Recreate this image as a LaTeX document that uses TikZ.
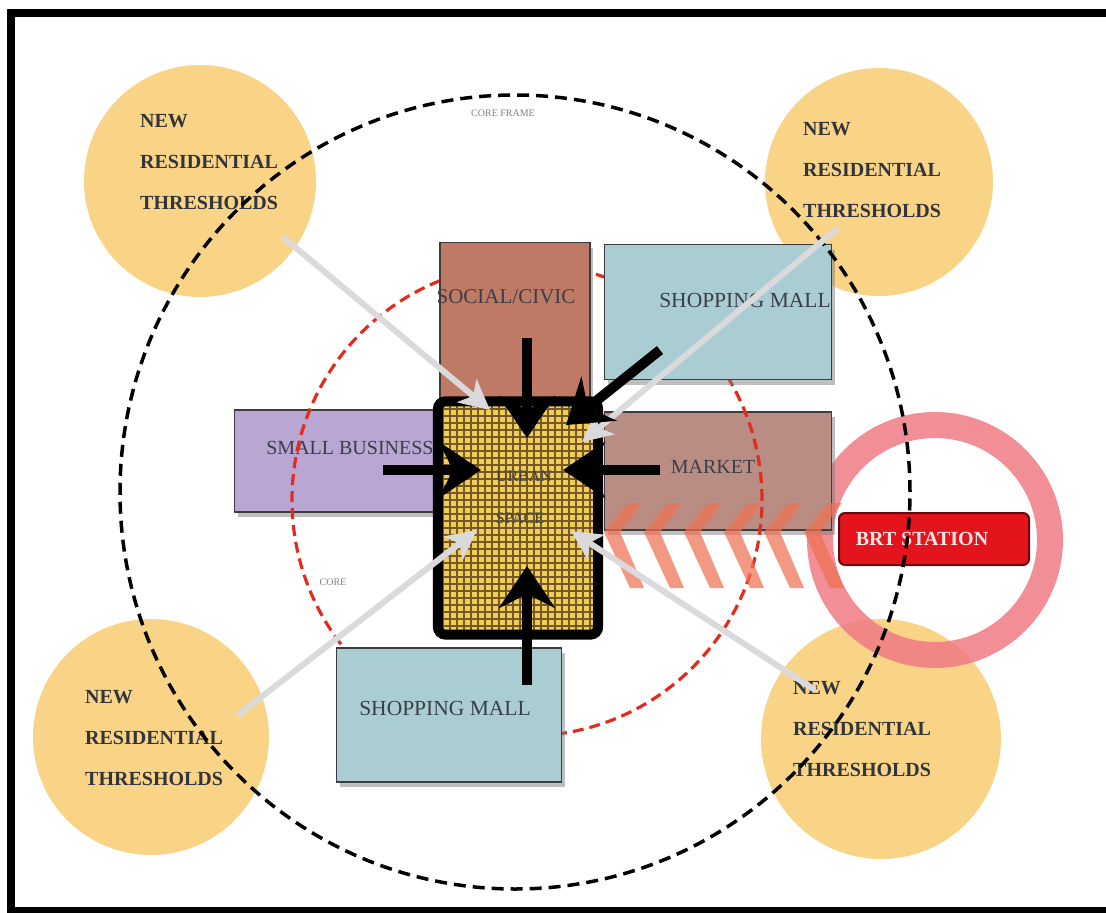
\documentclass[tikz,border=0pt]{standalone}
\usepackage{fontspec}
\setmainfont{Liberation Serif}
\usetikzlibrary{arrows.meta,shadows}

\definecolor{threshold}{RGB}{250,212,134}
\definecolor{civic}{RGB}{191,122,102}
\definecolor{mall}{RGB}{169,205,211}
\definecolor{business}{RGB}{186,166,210}
\definecolor{market}{RGB}{186,141,132}
\definecolor{urbanfill}{RGB}{240,206,84}
\definecolor{urbangrid}{RGB}{118,88,40}
\definecolor{ringpink}{RGB}{240,122,132}
\definecolor{brtred}{RGB}{228,20,28}
\definecolor{corered}{RGB}{226,44,30}
\definecolor{chevron}{RGB}{238,112,82}
\definecolor{feedgray}{RGB}{218,218,220}
\definecolor{labelgray}{RGB}{58,62,70}
\definecolor{boxline}{RGB}{60,60,62}

\begin{document}
\begin{tikzpicture}[x=1pt,y=-1pt,
    resicircle/.style={circle, fill=threshold, inner sep=0pt},
    resitext/.style={align=left, anchor=west, inner sep=0pt, text=labelgray!85!black,
        font=\fontsize{20}{41}\selectfont\bfseries},
    usebox/.style={draw=boxline, line width=1.8pt, inner sep=0pt,
        drop shadow={opacity=0.5, shadow xshift=3pt, shadow yshift=-5pt}},
    boxtext/.style={inner sep=0pt, text=labelgray, font=\fontsize{20}{24}\selectfont},
    smalllabel/.style={inner sep=0pt, text=gray, font=\fontsize{10}{12}\selectfont},
    inarrow/.style={line width=10pt, -{Stealth[length=42pt,width=56pt,inset=14pt]}},
    feedarrow/.style={draw=feedgray, line width=6pt, -{Stealth[length=30pt,width=30pt,inset=8pt]}}]

    \useasboundingbox (0,0) rectangle (1106,913);

    % Define the four residential thresholds
    \node[resicircle, minimum size=232pt] (nw) at (200,181) {};
    \node[resicircle, minimum size=228pt] (ne) at (879,182) {};
    \node[resicircle, minimum size=236pt] (sw) at (151,737) {};
    \node[resicircle, minimum size=240pt] (se) at (881,739) {};
    \node[resitext] (nwtext) at (140,162) {NEW\\RESIDENTIAL\\THRESHOLDS};
    \node[resitext] (netext) at (803,170) {NEW\\RESIDENTIAL\\THRESHOLDS};
    \node[resitext] (swtext) at (85,738) {NEW\\RESIDENTIAL\\THRESHOLDS};
    \node[resitext] (setext) at (793,729) {NEW\\RESIDENTIAL\\THRESHOLDS};

    % Draw the ring round the BRT station
    \node[circle, draw=ringpink, draw opacity=0.85, line width=26pt,
        minimum size=230pt, inner sep=0pt] (ring) at (935,540) {};

    % Draw the land uses behind the core
    \node[usebox, fill=business, minimum width=205pt, minimum height=102pt] (business) at (337,461) {};
    \node[boxtext] (businesstext) at (350,448) {SMALL BUSINESS};
    \node[usebox, fill=market, minimum width=227pt, minimum height=118pt] (market) at (718,471) {};
    \node[boxtext] (markettext) at (713,467) {MARKET};

    % Draw the core circle
    \coordinate (core) at (527,500);
    \draw[corered, line width=3.2pt, dash pattern=on 11pt off 6pt]
        (core) ellipse [x radius=235pt, y radius=236pt];
    \node[smalllabel] (corelabel) at (333,582) {CORE};

    \node[usebox, fill=civic, minimum width=150pt, minimum height=157pt] (civic) at (515,321) {};
    \node[boxtext, font=\fontsize{21}{24}\selectfont] (civictext) at (506,297) {SOCIAL/CIVIC};
    \node[usebox, fill=mall, minimum width=227pt, minimum height=135pt] (mallne) at (718,312) {};
    \node[boxtext, font=\fontsize{21.5}{24}\selectfont] (mallnetext) at (745,300) {SHOPPING MALL};
    \node[usebox, fill=mall, minimum width=225pt, minimum height=134pt] (mallsw) at (449,715) {};
    \node[boxtext, font=\fontsize{21.5}{24}\selectfont] (mallswtext) at (445,708) {SHOPPING MALL};

    % Draw the chevrons from the station
    \foreach \cx in {604,644,...,804}
        \fill[chevron, opacity=0.72] (\cx,532) -- (\cx+24,503) -- (\cx+38,503) -- (\cx+16,532)
            -- (\cx+40,588) -- (\cx+26,588) -- cycle;

    % Draw the urban space
    \node[fill=urbanfill, minimum width=160pt, minimum height=233pt, rounded corners=8pt,
        drop shadow={opacity=0.7, shadow xshift=2pt, shadow yshift=-4pt}] (urban) at (518,518) {};
    \begin{scope}
        \clip (urban.north west) rectangle (urban.south east);
        \foreach \gx in {436,443,...,600}
            \draw[urbangrid, line width=2.2pt] (\gx,400) -- (\gx,637);
        \foreach \gy in {402,409,...,636}
            \draw[urbangrid, line width=2.2pt] (433,\gy) -- (603,\gy);
    \end{scope}
    \draw[line width=10pt, rounded corners=8pt] (urban.north west) rectangle (urban.south east);
    \node[boxtext, font=\fontsize{16}{20}\selectfont, text=black!75] (urbantext) at (524,476) {URBAN};
    \node[boxtext, font=\fontsize{16}{20}\selectfont, text=black!75] (spacetext) at (520,518) {SPACE};

    % Draw the BRT station
    \node[fill=brtred, draw=brtred!45!black, line width=2pt, rounded corners=6pt,
        minimum width=190pt, minimum height=52pt] (brt) at (934,539) {};
    \node[inner sep=0pt, text=white!90!red, font=\fontsize{20}{22}\selectfont\bfseries]
        (brttext) at (922,539) {BRT STATION};

    % Draw the core frame
    \coordinate (frame) at (515,492);
    \draw[line width=3.5pt, dash pattern=on 12pt off 7pt]
        (frame) ellipse [x radius=395pt, y radius=397pt];
    \node[smalllabel] (framelabel) at (503,113) {CORE FRAME};

    % Define the ends of the arrows
    \coordinate (nwfeed) at (283,237);
    \coordinate (nwtip) at (490,410);
    \coordinate (nefeed) at (838,228);
    \coordinate (netip) at (582,442);
    \coordinate (swfeed) at (238,715);
    \coordinate (swtip) at (477,530);
    \coordinate (sefeed) at (815,690);
    \coordinate (setip) at (571,531);
    \coordinate (civicin) at (527,338);
    \coordinate (civictip) at (527,438);
    \coordinate (mallnein) at (660,350);
    \coordinate (mallnetip) at (566,425);
    \coordinate (businessin) at (383,470);
    \coordinate (businesstip) at (481,470);
    \coordinate (marketin) at (660,470);
    \coordinate (markettip) at (563,470);
    \coordinate (mallswin) at (527,685);
    \coordinate (mallswtip) at (527,566);

    % Draw the arrows into the urban space
    \draw[feedarrow] (nwfeed) -- (nwtip);
    \draw[feedarrow] (nefeed) -- (netip);
    \draw[feedarrow] (swfeed) -- (swtip);
    \draw[feedarrow] (sefeed) -- (setip);
    \draw[inarrow] (civicin) -- (civictip);
    \draw[inarrow] (mallnein) -- (mallnetip);
    \draw[inarrow] (businessin) -- (businesstip);
    \draw[inarrow] (marketin) -- (markettip);
    \draw[inarrow] (mallswin) -- (mallswtip);

    % Draw the outer frame
    \draw[line width=8pt] (11,13) rectangle (1120,911);
\end{tikzpicture}
\end{document}
